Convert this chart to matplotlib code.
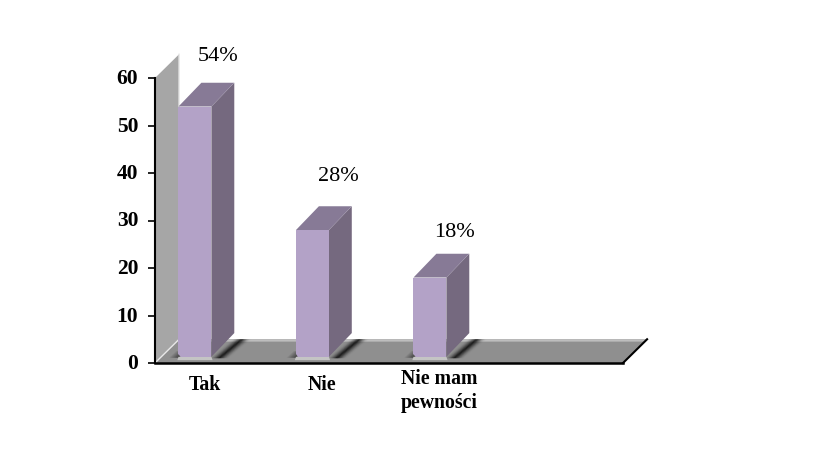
import numpy as np
import matplotlib.pyplot as plt
from matplotlib.patches import Polygon

categories = ['Tak', 'Nie', 'Nie mam\npewności']
values = [54, 28, 18]
percent_labels = ['54%', '28%', '18%']
yticks = [0, 10, 20, 30, 40, 50, 60]

# depth of the fake 3d box, in data units
dx = 0.205
dy = 5.0
bar_w = 0.28
bar_base = 1.3

plt.rcParams['font.family'] = ['Liberation Serif', 'DejaVu Serif']

fig = plt.figure(figsize=(8.28, 4.52), dpi=100)
ax = fig.add_axes([155/828, (452-364)/452, 468/828, 285/452])
ax.set_xlim(-0.34, 3.643)
ax.set_ylim(0, 60)
ax.patch.set_visible(False)

def poly(pts, color, z=2, alpha=1.0):
    p = Polygon(pts, closed=True, facecolor=color, edgecolor='none',
                alpha=alpha, zorder=z, clip_on=False)
    ax.add_patch(p)

x0, x1 = ax.get_xlim()

# left wall and floor
poly([(x0, 0), (x0+dx, dy), (x0+dx, 60+dy), (x0, 60)], '#a6a6a6', 1)
poly([(x0, 0), (x1, 0), (x1+dx, dy), (x0+dx, dy)], '#8f8f8f', 1)
poly([(x0+dx, dy-0.5), (x1+dx*0.9, dy-0.5), (x1+dx, dy), (x0+dx, dy)], '#bdbdbd', 1.1)
ax.plot([x0, x0+dx, x0+dx], [0, dy, 60+dy], color='#e8e8e8', lw=1, zorder=1.2, clip_on=False)

# shadows on the floor, drawn as stacked strips
for i in range(len(values)):
    xr = i + bar_w/2
    steps = 14
    for k in range(steps):
        a = k/steps
        sx = xr - 0.02 + 0.17*a
        poly([(sx - 0.012, bar_base - 0.3), (sx + 0.012, bar_base - 0.3),
              (sx + 0.012 + dx*0.95, dy), (sx - 0.012 + dx*0.95, dy)],
             'black', 1.5, alpha=0.6*(1 - abs(2*a - 1))**2)
    for k in range(8):
        a = k/8
        sx = i - bar_w/2 - 0.09 + 0.09*a
        poly([(sx, bar_base - 0.2), (sx + 0.012, bar_base - 0.2),
              (sx + 0.012 + 0.06, bar_base + 1.2), (sx + 0.06, bar_base + 1.2)],
             'black', 1.5, alpha=0.6*a)
    poly([(i - bar_w/2 - 0.01, bar_base - 0.7), (i + bar_w/2 + 0.01, bar_base - 0.7),
          (i + bar_w/2, bar_base), (i - bar_w/2, bar_base)], '#c4c4c4', 1.6)

# bars
label_up = [37, 39.5, 33]
label_right = [16.5, 19, 18]
for i, v in enumerate(values):
    l = i - bar_w/2
    r = i + bar_w/2
    poly([(l+0.02, bar_base), (r, bar_base), (r, v), (l, v), (l, bar_base+0.5)], '#b3a2c7', 3)
    poly([(r, bar_base), (r+dx*0.95, bar_base+dy*1.0), (r+dx*0.95, v+dy), (r, v)], '#75697f', 2.5)
    poly([(l, v), (r, v), (r+dx*0.95, v+dy), (l+dx*0.95, v+dy)], '#877a96', 3)
    ax.annotate(percent_labels[i], xy=(i, v), xytext=(label_right[i], label_up[i]), textcoords='offset points',
                ha='center', va='center', fontsize=16, color='black', annotation_clip=False)

ax.set_yticks(yticks)
ax.set_xticks([])
ax.tick_params(axis='y', length=5, width=1.2, pad=7, labelsize=15.5)
for lab in ax.get_yticklabels():
    lab.set_fontweight('bold')
    lab.set_verticalalignment('center')
    lab.set_y(lab.get_position()[1])

for side in ['top', 'right']:
    ax.spines[side].set_visible(False)
ax.spines['left'].set_linewidth(1.5)
ax.spines['bottom'].set_linewidth(1.8)
ax.plot([x1, x1+dx], [0, dy], color='black', lw=1.5, zorder=4, clip_on=False)

for i, c in enumerate(categories):
    ax.annotate(c, xy=(i, 0), xytext=(7, -15 if '\n' not in c else -3.5), textcoords='offset points',
                ha='center', va='center' if '\n' not in c else 'top', fontsize=14.2,
                fontweight='bold', linespacing=1.3, annotation_clip=False)

fig.savefig('out.png', dpi=100)
